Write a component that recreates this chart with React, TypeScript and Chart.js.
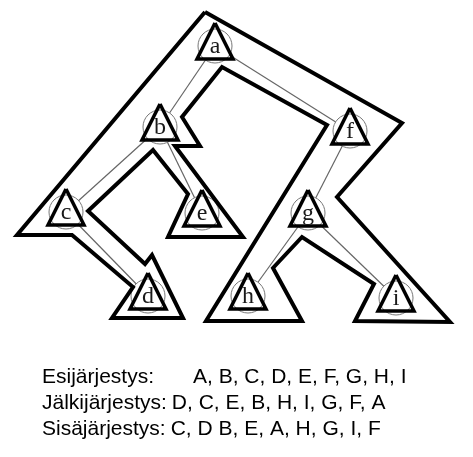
import { useEffect, useRef } from "react"
import { Chart, registerables, type Plugin } from "chart.js"

Chart.register(...registerables)

const W = 473
const H = 457

// tree nodes
const nodeNames = ["a", "b", "c", "d", "e", "f", "g", "h", "i"]
const nodeX = [215, 160, 66, 148, 202, 350, 308, 248, 396]
const nodeY = [46, 127, 212, 296, 213, 131, 213, 296, 298]
const edges = [["a", "b"], ["b", "c"], ["c", "d"], ["b", "e"], ["a", "f"], ["f", "g"], ["g", "h"], ["g", "i"]]

// traversal contour, x/y pairs
const contour = [
  [205, 12], [402, 123], [337, 197], [450, 322], [355, 321], [374, 284], [302, 237], [273, 268],
  [302, 321], [206, 321], [327, 125], [222, 67], [182, 117], [200, 146], [175, 146], [243, 237],
  [168, 237], [188, 194], [153, 150], [88, 211], [145, 264], [152, 255], [183, 318], [112, 318],
  [133, 287], [72, 235], [17, 235], [205, 12],
]

const orderLabels = ["Esijärjestys:", "Jälkijärjestys:", "Sisäjärjestys:"]
const orderValues = ["A, B, C, D, E, F, G, H, I", "D, C, E, B, H, I, G, F, A", "C, D B, E, A, H, G, I, F"]

const textPlugin: Plugin = {
  id: "texts",
  afterDatasetsDraw(chart) {
    const ctx = chart.ctx
    const sx = chart.scales.x
    const sy = chart.scales.y
    ctx.save()
    ctx.fillStyle = "#1a1a1a"
    ctx.font = "24px 'Liberation Serif', serif"
    ctx.textAlign = "center"
    ctx.textBaseline = "middle"
    nodeNames.forEach((n, k) => {
      ctx.fillText(n, sx.getPixelForValue(nodeX[k]), sy.getPixelForValue(nodeY[k] + 1))
    })
    ctx.fillStyle = "#000"
    ctx.font = "21px 'Liberation Sans', Arial, sans-serif"
    ctx.textAlign = "left"
    orderLabels.forEach((l, k) => {
      const y = 377 + k * 26
      ctx.fillText(l, 42, y)
      const lw = ctx.measureText(l).width
      const vx = k === 0 ? 193 : 42 + lw + 5
      ctx.fillText(orderValues[k], vx, y)
    })
    ctx.restore()
  },
}

export default function App() {
  const ref = useRef<HTMLCanvasElement>(null)

  useEffect(() => {
    if (!ref.current) return
    const pos = (n: string) => nodeNames.indexOf(n)
    const datasets: any[] = []

    edges.forEach(([p, c]) => {
      datasets.push({
        data: [{ x: nodeX[pos(p)], y: nodeY[pos(p)] }, { x: nodeX[pos(c)], y: nodeY[pos(c)] }],
        showLine: true, borderColor: "#666", borderWidth: 1.2, pointRadius: 0,
      })
    })
    datasets.push({
      data: nodeX.map((x, k) => ({ x, y: nodeY[k] })),
      pointRadius: 17, pointBackgroundColor: "#fff", pointBorderColor: "#777", pointBorderWidth: 1,
    })
    nodeX.forEach((x, k) => {
      const y = nodeY[k]
      datasets.push({
        data: [{ x, y: y - 23 }, { x: x + 18, y: y + 13 }, { x: x - 18, y: y + 13 }, { x, y: y - 23 }],
        showLine: true, borderColor: "#000", borderWidth: 3.5, pointRadius: 0,
      })
    })
    datasets.push({
      data: contour.map(([x, y]) => ({ x, y })),
      showLine: true, borderColor: "#000", borderWidth: 4, pointRadius: 0,
    })
    // Chart.js paints the first dataset on top, so reverse
    datasets.reverse()

    const chart = new Chart(ref.current, {
      type: "scatter",
      data: { datasets },
      options: {
        animation: false,
        responsive: false,
        layout: { padding: 0, autoPadding: false },
        plugins: { legend: { display: false }, tooltip: { enabled: false } },
        scales: {
          x: { type: "linear", min: 0, max: W, display: false },
          y: { type: "linear", min: 0, max: H, reverse: true, display: false },
        },
      },
      plugins: [textPlugin],
    })
    return () => chart.destroy()
  }, [])

  return (
    <div style={{ position: "fixed", left: 0, top: 0, width: W, height: H, background: "#fff" }}>
      <canvas ref={ref} width={W} height={H} />
    </div>
  )
}
